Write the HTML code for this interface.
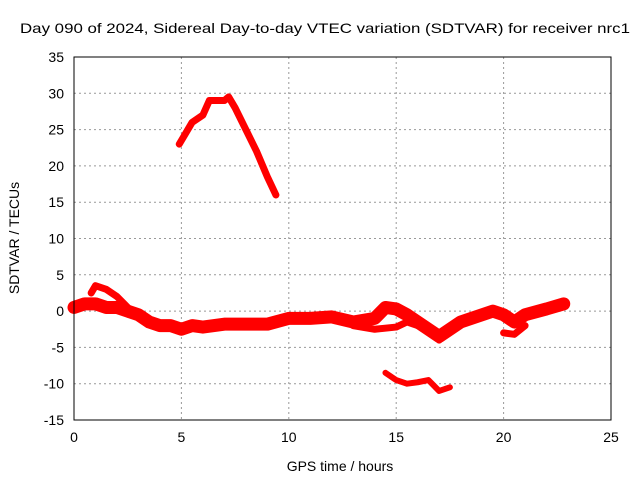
<!DOCTYPE html>
<html><head><meta charset="utf-8"><style>
body{margin:0;background:#fff}
svg text{font-family:"Liberation Sans",sans-serif;font-size:14px;fill:#000}
</style></head><body>
<svg width="640" height="480">
<text x="20" y="33" textLength="610" lengthAdjust="spacingAndGlyphs">Day 090 of 2024, Sidereal Day-to-day VTEC variation (SDTVAR) for receiver nrc1</text>
<g id="grid"></g><g id="axes"></g><g id="series"></g>
<rect x="74" y="57" width="537" height="363" fill="none" stroke="#000"/>
<text x="340" y="471" text-anchor="middle">GPS time / hours</text>
<text transform="translate(19,238) rotate(-90)" text-anchor="middle">SDTVAR / TECUs</text>
</svg>
<script>
const xTicks=[0,5,10,15,20,25];
const yTicks=[-15,-10,-5,0,5,10,15,20,25,30,35];
const bandMainX=[0,0.5,1,1.5,2,2.5,3,3.5,4,4.5,5,5.5,6,7,8,9,10,11,12,13,14,14.5,15,15.5,16,17,17.5,18,18.5,19,19.5,20,20.5,21,22,22.8];
const bandMainY=[0.5,1,1,0.5,0.5,0,-0.5,-1.5,-2,-2,-2.5,-2,-2.2,-1.8,-1.8,-1.8,-1,-1,-0.8,-1.5,-1,0.5,0.3,-0.5,-1.5,-3.5,-2.5,-1.5,-1,-0.5,0,-0.5,-1.5,-0.5,0.3,1];
const bandLowX=[13,14,15,15.5,16,16.5,17];
const bandLowY=[-2,-2.5,-2.2,-1.5,-2,-2.5,-4];
const humpX=[0.8,1,1.5,2,2.5];
const humpY=[2.5,3.5,3,2,0.5];
const dipX=[20,20.5,21];
const dipY=[-3,-3.2,-2];
const arcX=[4.9,5.2,5.5,6,6.3,7,7.2,7.5,8,8.5,9,9.4];
const arcY=[23,24.5,26,27,29,29,29.5,28,25,22,18.5,16];
const lowX=[14.5,15,15.5,16,16.5,17,17.5];
const lowY=[-8.5,-9.5,-10,-9.8,-9.5,-11,-10.5];
const NS="http://www.w3.org/2000/svg";
const sx=v=>74+v*537/25, sy=v=>420-(v+15)*363/50;
const g=document.getElementById('grid'),a=document.getElementById('axes'),s=document.getElementById('series');
function mk(tag,at,p){const e=document.createElementNS(NS,tag);for(const k in at)e.setAttribute(k,at[k]);p.appendChild(e);return e;}
xTicks.forEach(t=>{const x=sx(t);
 if(t>0&&t<25){const l=mk('line',{x1:x,x2:x,y1:57,y2:420,stroke:'#999','stroke-dasharray':'2,3'},g);
 
 }
 const tx=mk('text',{x:x,y:442,'text-anchor':'middle'},a);tx.textContent=t;
 
 });
yTicks.forEach(t=>{const y=sy(t);
 if(t>-15&&t<35){const l=mk('line',{x1:74,x2:611,y1:y,y2:y,stroke:'#999','stroke-dasharray':'2,3'},g);
 
 }
 const tx=mk('text',{x:64,y:y+5,'text-anchor':'end'},a);tx.textContent=t;
 
 });
function line(xs,ys,w,name){const p=mk('polyline',{points:xs.map((x,i)=>sx(x)+','+sy(ys[i])).join(' '),fill:'none',stroke:'#f00','stroke-width':w,'stroke-linejoin':'round','stroke-linecap':'round'},s);
 
 }
line(bandMainX,bandMainY,13,'series-main-band');
line(bandLowX,bandLowY,7,'series-lower-band');
line(humpX,humpY,7,'series-hump');
line(dipX,dipY,7,'series-dip');
line(arcX,arcY,7,'series-arc');
line(lowX,lowY,6,'series-low');
</script>
</body></html>
